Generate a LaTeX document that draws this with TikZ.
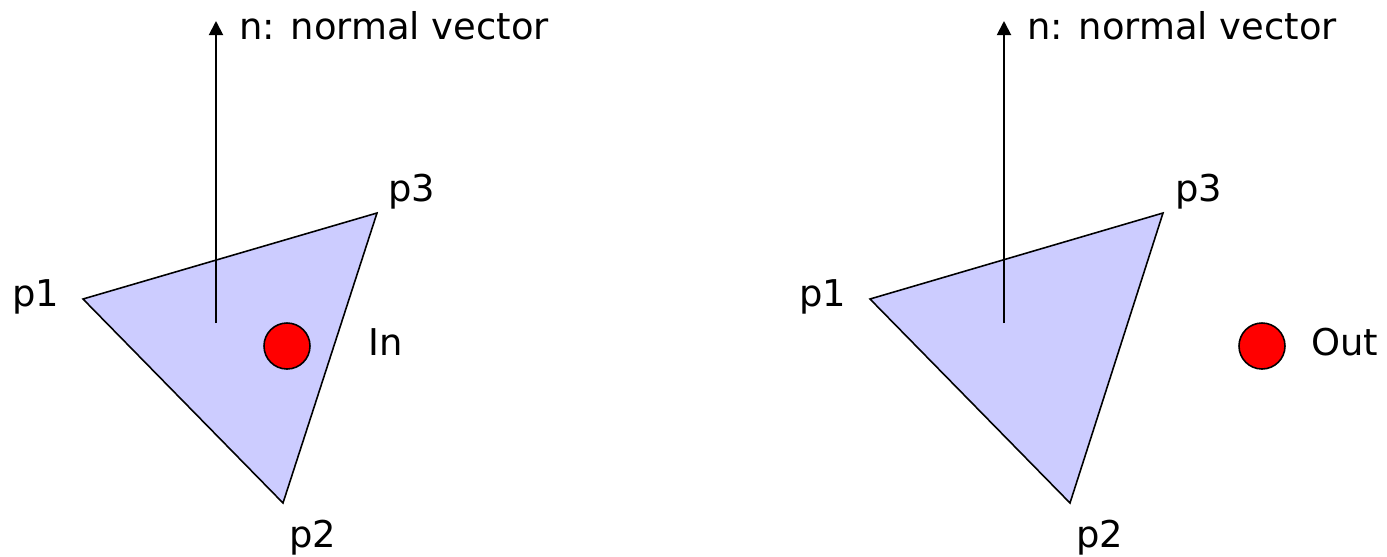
\documentclass[tikz,border=0pt]{standalone}
\usepackage{fontspec}
\setmainfont{DejaVu Sans}
\usetikzlibrary{arrows.meta}
\definecolor{trifill}{RGB}{204,204,255}
\tikzset{
  tri/.style={draw, fill=trifill, line width=0.9pt, line join=miter},
  lbl/.style={font=\fontsize{21}{25}\selectfont, inner sep=0pt},
  normalvec/.style={line width=1.1pt, -{Triangle[length=8pt,width=8pt]}},
  testpt/.style={circle, draw, line width=0.9pt, fill=red, minimum size=0.92cm, inner sep=0pt}
}
\begin{document}
\begin{tikzpicture}[x=0.02cm, y=-0.02cm]
    \useasboundingbox (0,0) rectangle (1387,556);

    % Left: point inside the triangle
    \coordinate (a1) at (83,299);
    \coordinate (a2) at (283,503);
    \coordinate (a3) at (377,213);
    \draw[tri] (a1) -- (a2) -- (a3) -- cycle;
    \node[lbl] (la1) at (36,297) {p1};
    \node[lbl] (la2) at (313,538) {p2};
    \node[lbl] (la3) at (412,192) {p3};
    % Normal vector
    \coordinate (nbase1) at (216,323);
    \coordinate (ntip1) at (216,21);
    \draw[normalvec] (nbase1) -- (ntip1);
    \node[lbl, anchor=base west] (nlbl1) at (239,39) {n: normal vector};
    % Test point
    \node[testpt] (pin) at (287,346) {};
    \node[lbl] (tin) at (386,342) {In};

    \begin{scope}[xshift=787*0.02cm]
        % Right: point outside the triangle
        \coordinate (b1) at (83,299);
        \coordinate (b2) at (283,503);
        \coordinate (b3) at (376,213);
        \draw[tri] (b1) -- (b2) -- (b3) -- cycle;
        \node[lbl] (lb1) at (36,297) {p1};
        \node[lbl] (lb2) at (313,538) {p2};
        \node[lbl] (lb3) at (412,192) {p3};
        % Normal vector
        \coordinate (nbase2) at (217,323);
        \coordinate (ntip2) at (217,21);
        \draw[normalvec] (nbase2) -- (ntip2);
        \node[lbl, anchor=base west] (nlbl2) at (240,39) {n: normal vector};
        % Test point
        \node[testpt] (pout) at (475,346) {};
        \node[lbl] (tout) at (558,342) {Out};
    \end{scope}
\end{tikzpicture}
\end{document}
